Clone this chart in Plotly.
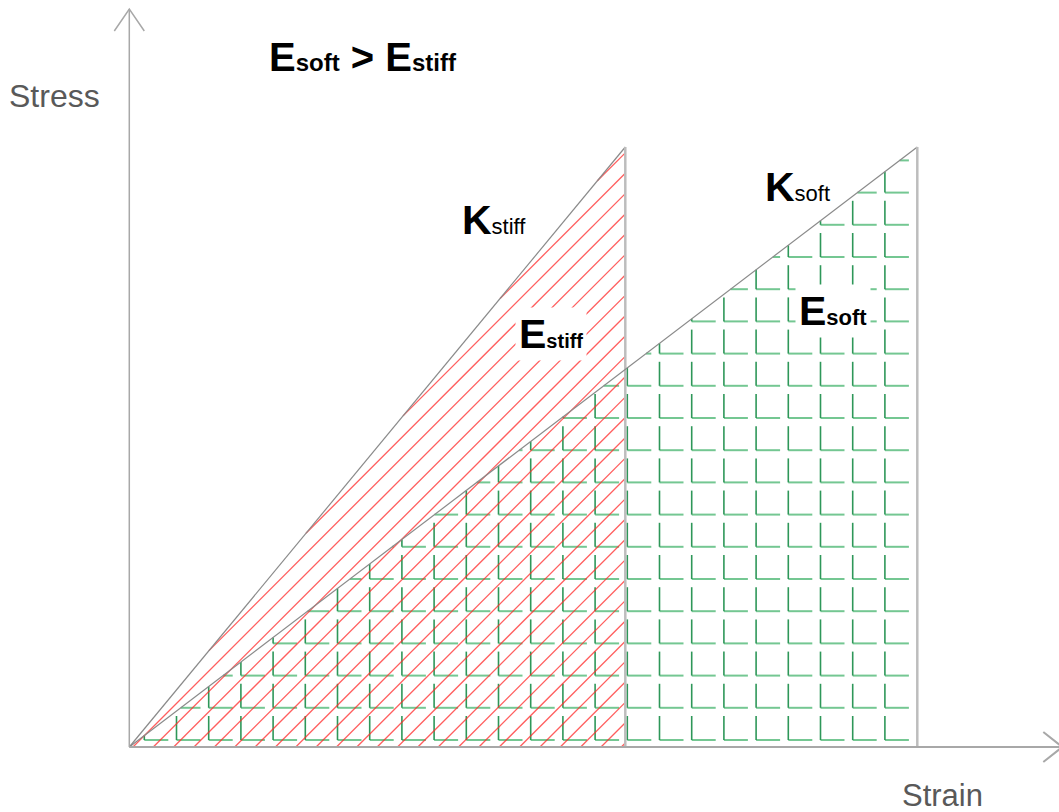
import numpy as np
import plotly.graph_objects as go

# Linear stress-strain curves of the two materials (arbitrary units)
materials = ["stiff", "soft"]
strain_max = [4.96, 7.88]
stress_max = [6.0, 6.0]

# Axis labels and annotation texts
x_label = "Strain"
y_label = "Stress"

# Hatch styling for the two energy areas
RED_STEP, RED_OFFSET = 0.2035, 0.24
L_STEP, L_X0, L_Y0, L_SIZE = 0.322, 0.15, 0.07, 0.24

x_stiff, x_soft = strain_max
s_stiff, s_soft = stress_max
m_stiff = s_stiff / x_stiff
m_soft = s_soft / x_soft

fig = go.Figure()

# --- green "L" hatching inside the soft triangle -------------------------
vx, vy, hx, hy = [], [], [], []
for j in range(60):
    xv = L_X0 + j * L_STEP
    if xv >= x_soft - 0.02:
        break
    for i in range(60):
        yb = L_Y0 + i * L_STEP
        if yb > s_soft:
            break
        yt = yb + L_SIZE
        top = min(yt, m_soft * xv)
        if top > yb:
            vx += [xv, xv, None]
            vy += [yb, top, None]
        lo = max(xv, yb / m_soft)
        hi = min(xv + L_SIZE, x_soft)
        if hi > lo:
            hx += [lo, hi, None]
            hy += [yb, yb, None]

fig.add_trace(go.Scatter(x=hx, y=hy, mode="lines", hoverinfo="skip",
                         line=dict(color="rgba(70,180,110,0.75)", width=2)))
fig.add_trace(go.Scatter(x=vx, y=vy, mode="lines", hoverinfo="skip",
                         line=dict(color="rgba(35,145,80,0.95)", width=1.6)))

# --- red diagonal hatching inside the stiff triangle ----------------------
rx, ry = [], []
a_min = -(m_stiff - 1) * x_stiff
k_lo = int(np.floor((a_min - RED_OFFSET) / RED_STEP))
k_hi = int(np.ceil((x_stiff - RED_OFFSET) / RED_STEP))
for k in range(k_lo, k_hi + 1):
    a = RED_OFFSET + k * RED_STEP
    x_lo = a if a >= 0 else -a / (m_stiff - 1)
    if x_lo < x_stiff:
        rx += [x_lo, x_stiff, None]
        ry += [x_lo - a, x_stiff - a, None]

fig.add_trace(go.Scatter(x=rx, y=ry, mode="lines", hoverinfo="skip",
                         line=dict(color="rgba(255,40,40,0.75)", width=1.3)))

# --- stress-strain lines and unloading verticals --------------------------
for xm, sm in zip(strain_max, stress_max):
    fig.add_trace(go.Scatter(x=[0, xm], y=[0, sm], mode="lines", hoverinfo="skip",
                             line=dict(color="#8a8a8a", width=1.2)))
    fig.add_trace(go.Scatter(x=[xm, xm], y=[sm, 0], mode="lines", hoverinfo="skip",
                             line=dict(color="#bdbdbd", width=2.5)))

# --- axes with open arrow heads ------------------------------------------
x_tip, y_tip = 9.33, 7.38
fig.add_trace(go.Scatter(
    x=[0, x_tip, None, x_tip - 0.19, x_tip, x_tip - 0.19],
    y=[0, 0, None, 0.15, 0, -0.15],
    mode="lines", hoverinfo="skip", line=dict(color="#a8a8a8", width=2)))
fig.add_trace(go.Scatter(
    x=[0, 0, None, -0.15, 0, 0.15],
    y=[0, y_tip, None, y_tip - 0.22, y_tip, y_tip - 0.22],
    mode="lines", hoverinfo="skip", line=dict(color="#a8a8a8", width=1.5)))

BIG = 41
FONT = "Liberation Sans, Arial, sans-serif"


def label(main, sub, bold_sub, sub_size=22):
    sub_txt = f"<span style='font-size:{sub_size}px'>{sub}</span>"
    if bold_sub:
        return f"<b>{main}{sub_txt}</b>"
    return f"<b>{main}</b>{sub_txt}"


title_txt = label("E", "soft", True, 24) + "<b> &gt; </b>" + label("E", "stiff", True, 24)

annotations = [
    dict(x=1.36, y=6.90, text=title_txt, size=40, color="black", bg=None),
    dict(x=3.29, y=5.27, text=label("K", "stiff", False), size=BIG, color="black", bg=None),
    dict(x=3.86, y=4.13, text=label("E", "stiff", True, 20), size=BIG, color="black", bg="white"),
    dict(x=6.32, y=5.60, text=label("K", "soft", False), size=BIG, color="black", bg=None),
    dict(x=6.66, y=4.36, text=label("E", "soft", True), size=BIG, color="black", bg="white"),
    dict(x=-1.24, y=6.51, text=y_label, size=32, color="#595959", bg=None),
    dict(x=7.69, y=-0.48, text=x_label, size=31, color="#595959", bg=None),
]
for a in annotations:
    fig.add_annotation(x=a["x"], y=a["y"], text=a["text"], showarrow=False,
                       xanchor="left", yanchor="middle", borderpad=3,
                       bgcolor=a["bg"] or "rgba(0,0,0,0)",
                       font=dict(family=FONT, size=a["size"], color=a["color"]))

fig.update_layout(
    width=1059, height=812,
    margin=dict(l=0, r=0, t=0, b=0),
    paper_bgcolor="white", plot_bgcolor="white",
    showlegend=False,
    xaxis=dict(range=[-1.293, 9.297], visible=False, fixedrange=True),
    yaxis=dict(range=[-0.65, 7.47], visible=False, fixedrange=True),
)

fig.write_html("out.html")
